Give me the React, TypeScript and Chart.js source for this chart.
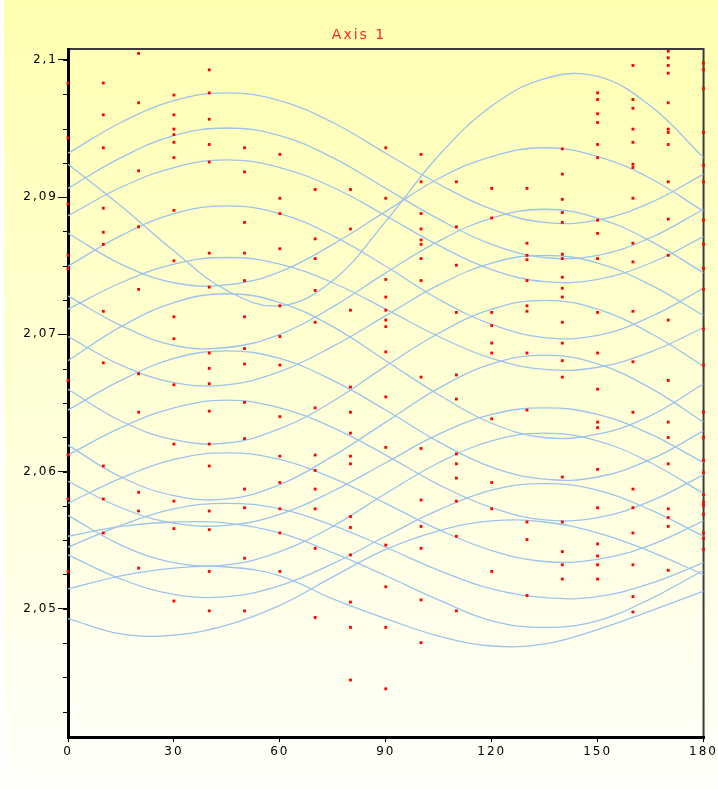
import { useEffect, useRef } from 'react';
import { Chart, registerables } from 'chart.js';

Chart.register(...registerables);

const titleText = 'Axis 1';
const xTickStep = 30;
const xMinorStep = 7.5;
const yTickValues = [2.05, 2.0625, 2.075, 2.0875, 2.1];
const yTickLabels = ['2,05', '2,06', '2,07', '2,09', '2,1'];
const yMinorStep = 0.003125;

const pointX = [0, 10, 20, 30, 40, 50, 60, 70, 80, 90, 100, 110, 120, 130, 140, 150, 160, 170, 180];
const pointValues: number[][] = [
  [2.0979, 2.0929, 2.0869, 2.0822, 2.081, 2.0708, 2.064, 2.06, 2.0534],
  [2.0979, 2.095, 2.092, 2.0865, 2.0843, 2.0832, 2.0771, 2.0724, 2.063, 2.06, 2.0569],
  [2.1006, 2.0961, 2.0899, 2.0848, 2.0791, 2.0714, 2.0679, 2.0606, 2.0589, 2.0537],
  [2.0968, 2.095, 2.0937, 2.0932, 2.0925, 2.0911, 2.0863, 2.0817, 2.0766, 2.0746, 2.0704, 2.065, 2.0598, 2.0573, 2.0507],
  [2.0991, 2.097, 2.0946, 2.0923, 2.0907, 2.0824, 2.0793, 2.0733, 2.0719, 2.0705, 2.068, 2.065, 2.063, 2.0589, 2.0572, 2.0534, 2.0498],
  [2.092, 2.0898, 2.0852, 2.0824, 2.0799, 2.0766, 2.0737, 2.0723, 2.0688, 2.0655, 2.0609, 2.0592, 2.0546, 2.0498],
  [2.0914, 2.0874, 2.086, 2.0828, 2.0776, 2.0748, 2.0722, 2.0675, 2.0639, 2.0615, 2.0591, 2.0569, 2.0534],
  [2.0882, 2.0837, 2.0819, 2.079, 2.0761, 2.0683, 2.064, 2.0626, 2.0609, 2.0591, 2.0555, 2.0492],
  [2.0882, 2.0846, 2.0772, 2.0702, 2.0679, 2.066, 2.0639, 2.0632, 2.0584, 2.0574, 2.0549, 2.0506, 2.0483, 2.0435],
  [2.092, 2.0874, 2.08, 2.0784, 2.0772, 2.0763, 2.0757, 2.0734, 2.0693, 2.0647, 2.0558, 2.052, 2.0483, 2.0427],
  [2.0914, 2.0889, 2.086, 2.0846, 2.0836, 2.0832, 2.0819, 2.0799, 2.0711, 2.0646, 2.0599, 2.0575, 2.0555, 2.0508, 2.0469],
  [2.0889, 2.0848, 2.0813, 2.077, 2.0713, 2.0691, 2.0641, 2.0632, 2.0619, 2.0598, 2.0566, 2.0498],
  [2.0883, 2.0856, 2.077, 2.0758, 2.0742, 2.0733, 2.0673, 2.0615, 2.0591, 2.0534],
  [2.0883, 2.0833, 2.0822, 2.0818, 2.0799, 2.0776, 2.0771, 2.0733, 2.0681, 2.0579, 2.0563, 2.0512],
  [2.0919, 2.0896, 2.0873, 2.0861, 2.0852, 2.0823, 2.0819, 2.0802, 2.0792, 2.0784, 2.0761, 2.0742, 2.0726, 2.0711, 2.062, 2.0579, 2.0552, 2.054, 2.0527],
  [2.097, 2.0964, 2.0951, 2.0943, 2.0923, 2.0911, 2.0854, 2.0842, 2.0819, 2.077, 2.0733, 2.07, 2.067, 2.0665, 2.0627, 2.0592, 2.0559, 2.0548, 2.054, 2.0527],
  [2.0995, 2.0964, 2.0956, 2.0937, 2.0925, 2.0905, 2.0902, 2.0874, 2.0833, 2.0816, 2.0771, 2.0725, 2.0679, 2.0609, 2.0592, 2.0569, 2.054, 2.0511, 2.0497],
  [2.1008, 2.1002, 2.0995, 2.0988, 2.0961, 2.0937, 2.0934, 2.0923, 2.0889, 2.0855, 2.0822, 2.0763, 2.0708, 2.067, 2.0656, 2.0632, 2.0591, 2.0583, 2.0575, 2.0535],
  [2.0997, 2.0991, 2.0974, 2.0934, 2.0904, 2.0889, 2.0854, 2.0832, 2.081, 2.0791, 2.0755, 2.0722, 2.0679, 2.0656, 2.0635, 2.0624, 2.0604, 2.0597, 2.0594, 2.0586, 2.0569, 2.0564, 2.0554],
];

const curveX = [0, 15, 30, 45, 60, 75, 90, 105, 120, 135, 150, 165, 180];
const curveP1 = [2.0915, 2.0943, 2.0963, 2.097, 2.0963, 2.0943, 2.0915, 2.0887, 2.0864, 2.0852, 2.0854, 2.087, 2.0896];
const curveP2 = [2.0883, 2.0911, 2.0931, 2.0938, 2.0931, 2.0911, 2.0883, 2.0855, 2.0832, 2.082, 2.0822, 2.0838, 2.0864];
const curveP3 = [2.0858, 2.0884, 2.0902, 2.0909, 2.0902, 2.0884, 2.0858, 2.0831, 2.0809, 2.0798, 2.08, 2.0815, 2.0839];
const curveP4 = [2.0812, 2.084, 2.086, 2.0867, 2.086, 2.084, 2.0812, 2.0782, 2.0759, 2.0747, 2.0749, 2.0766, 2.0792];
const curveP5 = [2.0773, 2.0797, 2.0814, 2.082, 2.0814, 2.0797, 2.0773, 2.0748, 2.0728, 2.0718, 2.072, 2.0734, 2.0756];
const curveP6 = [2.0726, 2.0757, 2.0779, 2.0787, 2.0779, 2.0757, 2.0726, 2.0695, 2.0669, 2.0656, 2.0659, 2.0676, 2.0705];
const curveP7 = [2.0681, 2.0708, 2.0728, 2.0735, 2.0728, 2.0708, 2.0681, 2.0652, 2.0629, 2.0618, 2.062, 2.0636, 2.0662];
const curveP8 = [2.064, 2.0665, 2.0683, 2.069, 2.0683, 2.0665, 2.064, 2.0613, 2.0592, 2.0581, 2.0583, 2.0598, 2.0622];
const curveP9 = [2.0596, 2.0619, 2.0636, 2.0642, 2.0636, 2.0619, 2.0596, 2.0572, 2.0553, 2.0543, 2.0545, 2.0558, 2.058];
const curveP10 = [2.0556, 2.0576, 2.0591, 2.0596, 2.0591, 2.0576, 2.0556, 2.0535, 2.0518, 2.051, 2.0511, 2.0523, 2.0542];
const curveP11 = [2.0566, 2.0575, 2.0579, 2.0578, 2.0569, 2.0551, 2.053, 2.0508, 2.0489, 2.0483, 2.0489, 2.0509, 2.0535];
const curveP12 = [2.0518, 2.053, 2.0537, 2.0538, 2.053, 2.0509, 2.0491, 2.0475, 2.0466, 2.0468, 2.0481, 2.0498, 2.0516];
const curveQ1 = [2.0905, 2.0867, 2.0826, 2.079, 2.0776, 2.0799, 2.0853, 2.0913, 2.0958, 2.0983, 2.0985, 2.0958, 2.0911];
const curveQ2 = [2.0842, 2.0814, 2.0797, 2.0795, 2.0807, 2.0832, 2.0862, 2.0892, 2.0912, 2.092, 2.0912, 2.0892, 2.0862];
const curveQ3 = [2.0785, 2.0758, 2.074, 2.0738, 2.075, 2.0775, 2.0806, 2.0835, 2.0856, 2.0864, 2.0856, 2.0835, 2.0806];
const curveQ4 = [2.0748, 2.0722, 2.0706, 2.0704, 2.0716, 2.0739, 2.0767, 2.0795, 2.0815, 2.0822, 2.0815, 2.0795, 2.0767];
const curveQ5 = [2.07, 2.0671, 2.0654, 2.0651, 2.0664, 2.0689, 2.0721, 2.0751, 2.0773, 2.0781, 2.0773, 2.0751, 2.0721];
const curveQ6 = [2.0649, 2.062, 2.0603, 2.06, 2.0613, 2.0639, 2.067, 2.0701, 2.0723, 2.0731, 2.0723, 2.0701, 2.067];
const curveQ7 = [2.0616, 2.0592, 2.0578, 2.0576, 2.0586, 2.0607, 2.0633, 2.0659, 2.0677, 2.0683, 2.0677, 2.0659, 2.0633];
const curveQ8 = [2.0585, 2.0558, 2.0542, 2.054, 2.0552, 2.0575, 2.0605, 2.0633, 2.0653, 2.066, 2.0653, 2.0633, 2.0605];
const curveQ9 = [2.0549, 2.0527, 2.0513, 2.0511, 2.0521, 2.0541, 2.0566, 2.059, 2.0608, 2.0614, 2.0608, 2.059, 2.0566];
const curveQ10 = [2.0491, 2.0477, 2.0476, 2.0485, 2.0503, 2.0529, 2.0554, 2.0571, 2.058, 2.0579, 2.0569, 2.0552, 2.0531];

const curves = [
  curveP1, curveP2, curveP3, curveP4, curveP5, curveP6, curveP7, curveP8, curveP9, curveP10, curveP11, curveP12,
  curveQ1, curveQ2, curveQ3, curveQ4, curveQ5, curveQ6, curveQ7, curveQ8, curveQ9, curveQ10,
];

const bgPlugin = {
  id: 'bgPlugin',
  beforeDraw(chart: any) {
    const { ctx, width, height } = chart;
    ctx.save();
    const g = ctx.createLinearGradient(0, 0, 0, height);
    g.addColorStop(0, '#FFFFB0');
    g.addColorStop(0.5, '#FFFFD6');
    g.addColorStop(1, '#FFFFFA');
    ctx.fillStyle = g;
    ctx.fillRect(4, 0, width - 4, height);
    ctx.restore();
    ctx.letterSpacing = '2px';
  },
};

const framePlugin = {
  id: 'framePlugin',
  beforeDatasetsDraw(chart: any) {
    const { ctx, chartArea } = chart;
    const { left, right, top, bottom } = chartArea;
    const xs = chart.scales.x;
    const ys = chart.scales.y;
    ctx.save();
    ctx.strokeStyle = '#3a3a3a';
    ctx.lineWidth = 2;
    ctx.beginPath();
    ctx.moveTo(left, top);
    ctx.lineTo(right, top);
    ctx.lineTo(right, bottom);
    ctx.stroke();
    ctx.strokeStyle = '#000';
    ctx.lineWidth = 1;
    ctx.beginPath();
    for (let v = yTickValues[0] - 3 * yMinorStep; v <= ys.max + 1e-9; v += yMinorStep) {
      if (v < ys.min) continue;
      const p = Math.round(ys.getPixelForValue(v)) + 0.5;
      ctx.moveTo(left - 5, p);
      ctx.lineTo(left, p);
    }
    for (let v = 0; v <= xs.max + 1e-9; v += xMinorStep) {
      const p = Math.round(xs.getPixelForValue(v)) + 0.5;
      ctx.moveTo(p, bottom);
      ctx.lineTo(p, bottom + 3);
    }
    ctx.stroke();
    ctx.lineWidth = 3;
    ctx.beginPath();
    ctx.moveTo(left + 0.5, top - 1);
    ctx.lineTo(left + 0.5, bottom + 1.5);
    ctx.lineTo(right + 1, bottom + 1.5);
    ctx.stroke();
    ctx.restore();
  },
};

export default function App() {
  const ref = useRef<HTMLCanvasElement | null>(null);
  useEffect(() => {
    document.body.style.margin = '0';
    const canvas = ref.current;
    if (!canvas) return;
    const curveDatasets = curves.map((arr) => ({
      type: 'scatter' as const,
      data: curveX.map((x, i) => ({ x, y: arr[i] })),
      showLine: true,
      borderColor: '#9DC3EC',
      borderWidth: 1.3,
      pointRadius: 0,
      tension: 0.4,
      fill: false,
    }));
    const pointDataset = {
      type: 'scatter' as const,
      data: pointValues.flatMap((col, i) => col.map((v) => ({ x: pointX[i], y: v }))),
      showLine: false,
      pointRadius: 2,
      pointStyle: 'rect',
      backgroundColor: '#FF0000',
      borderColor: '#FF0000',
      borderWidth: 0,
      clip: false,
    };
    const chart = new Chart(canvas, {
      type: 'scatter',
      data: { datasets: [pointDataset as any, ...curveDatasets] },
      options: {
        animation: false,
        responsive: false,
        devicePixelRatio: 1,
        layout: { padding: 0 },
        events: [],
        plugins: {
          legend: { display: false },
          tooltip: { enabled: false },
          title: {
            display: true,
            text: titleText,
            color: '#FF2626',
            font: { family: 'DejaVu Sans', size: 14, weight: 'normal' },
            padding: { top: 26.6, bottom: 5.6 },
          },
        },
        scales: {
          x: {
            type: 'linear',
            min: 0,
            max: 180,
            afterFit: (s: any) => { s.height = 53; },
            ticks: {
              stepSize: xTickStep,
              autoSkip: false,
              maxRotation: 0,
              color: '#000',
              padding: 3,
              font: { family: 'DejaVu Sans', size: 12 },
            },
            grid: { display: true, drawOnChartArea: false, drawTicks: true, tickLength: 6, color: '#000', lineWidth: 1 },
            border: { display: false },
          },
          y: {
            type: 'linear',
            min: 2.0384,
            max: 2.101,
            afterFit: (s: any) => { s.width = 68; },
            afterBuildTicks: (s: any) => { s.ticks = yTickValues.map((v) => ({ value: v })); },
            ticks: {
              color: '#000',
              padding: 0,
              font: { family: 'DejaVu Sans', size: 12 },
              callback: (_v: any, i: number) => yTickLabels[i] ?? '',
            },
            grid: { display: true, drawOnChartArea: false, drawTicks: true, tickLength: 10, color: '#000', lineWidth: 1 },
            border: { display: false },
          },
          y2: {
            type: 'linear',
            position: 'right',
            min: 0,
            max: 1,
            afterFit: (s: any) => { s.width = 14; },
            ticks: { display: false },
            grid: { display: false },
            border: { display: false },
          },
        },
      },
      plugins: [bgPlugin, framePlugin],
    } as any);
    return () => chart.destroy();
  }, []);
  return (
    <div style={{ width: 718, height: 789, position: 'relative' }}>
      <canvas ref={ref} width={718} height={789} style={{ display: 'block' }} />
    </div>
  );
}
